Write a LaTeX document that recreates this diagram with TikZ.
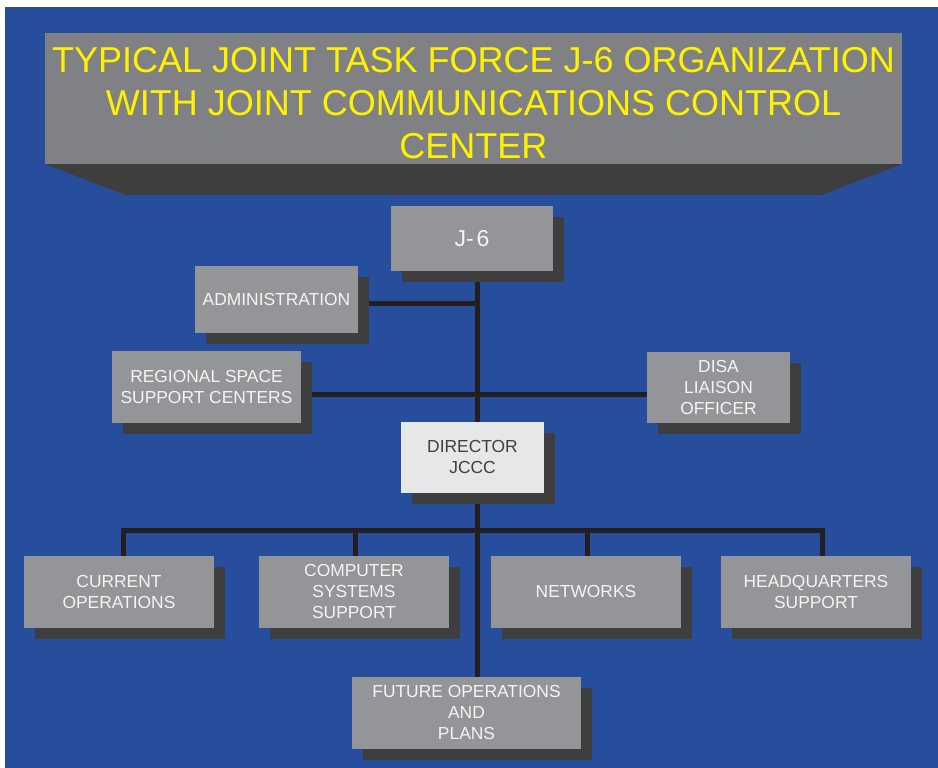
\documentclass[tikz,border=0pt]{standalone}
\usepackage{fontspec}
\setmainfont{Liberation Sans}
\usetikzlibrary{shadows}
\definecolor{bgblue}{RGB}{39,78,157}
\definecolor{boxgray}{RGB}{147,149,152}
\definecolor{titlegray}{RGB}{128,129,132}
\definecolor{shadowgray}{RGB}{62,62,62}
\definecolor{linedark}{RGB}{35,31,32}
\definecolor{dirfill}{RGB}{230,231,232}
\definecolor{titleyellow}{RGB}{255,242,0}
\definecolor{boxtext}{RGB}{244,244,245}
\definecolor{dirtext}{RGB}{64,64,65}
\pgfdeclarelayer{back}
\pgfdeclarelayer{lines}
\pgfsetlayers{back,lines,main}
\begin{document}
\begin{tikzpicture}[x=1pt,y=-1pt,
  orgbox/.style={rectangle, fill=boxgray, text=boxtext, inner sep=0pt, align=center,
    font=\fontsize{17.4}{21}\selectfont,
    general shadow={fill=shadowgray, shadow xshift=11pt, shadow yshift=-11pt}},
  conn/.style={draw=linedark, line width=5pt}]
\useasboundingbox (0,0) rectangle (938,768);
\begin{pgfonlayer}{back}
\fill[bgblue] (5,7) rectangle (938,768);
\end{pgfonlayer}

% title
\fill[titlegray] (45,33) rectangle (902,164);
\fill[shadowgray] (45,164) -- (902,164) -- (822,195) -- (125,195) -- cycle;
\node[inner sep=0pt, text=titleyellow, align=center, font=\fontsize{36}{43}\selectfont]
  (title) at (473.5,103) {TYPICAL JOINT TASK FORCE J-6 ORGANIZATION\\WITH JOINT COMMUNICATIONS CONTROL\\CENTER};

% boxes
\node[orgbox, minimum width=162pt, minimum height=65pt, font=\fontsize{23}{26}\selectfont] (j6) at (472,238.5) {J-\kern3pt6};
\node[orgbox, minimum width=163pt, minimum height=67pt] (adm) at (276.5,299.5) {ADMINISTRATION};
\node[orgbox, minimum width=189pt, minimum height=72pt] (reg) at (206.5,387) {REGIONAL SPACE\\SUPPORT CENTERS};
\node[orgbox, minimum width=143pt, minimum height=71pt] (disa) at (718.5,387.5) {DISA\\LIAISON\\OFFICER};
\node[orgbox, minimum width=143pt, minimum height=71pt, fill=dirfill, text=dirtext] (dir) at (472.5,457.5) {DIRECTOR\\JCCC};
\node[orgbox, minimum width=190pt, minimum height=72pt] (cur) at (119,592) {CURRENT\\OPERATIONS};
\node[orgbox, minimum width=190pt, minimum height=72pt] (css) at (354,592) {COMPUTER\\SYSTEMS\\SUPPORT};
\node[orgbox, minimum width=190pt, minimum height=72pt] (net) at (586,592) {NETWORKS};
\node[orgbox, minimum width=190pt, minimum height=72pt] (hq) at (816,592) {HEADQUARTERS\\SUPPORT};
\node[orgbox, minimum width=229pt, minimum height=72pt] (fut) at (466.5,713) {FUTURE OPERATIONS\\AND\\PLANS};

% connectors
\coordinate (spine) at (477,0);
\coordinate (admy) at (0,303);
\coordinate (regy) at (0,394);
\coordinate (d1) at (123,530);
\coordinate (d2) at (355,530);
\coordinate (d3) at (587,530);
\coordinate (d4) at (822,530);
\begin{pgfonlayer}{lines}
\draw[conn] (spine |- j6.south) -- (spine |- fut.north);
\draw[conn] (adm.east |- admy) -- (spine |- admy);
\draw[conn] (reg.east |- regy) -- (disa.west |- regy);
\draw[conn] (d1 |- cur.north) -- (d1) -- (d4) -- (d4 |- hq.north);
\draw[conn] (d2) -- (d2 |- css.north);
\draw[conn] (d3) -- (d3 |- net.north);
\end{pgfonlayer}
\end{tikzpicture}
\end{document}
